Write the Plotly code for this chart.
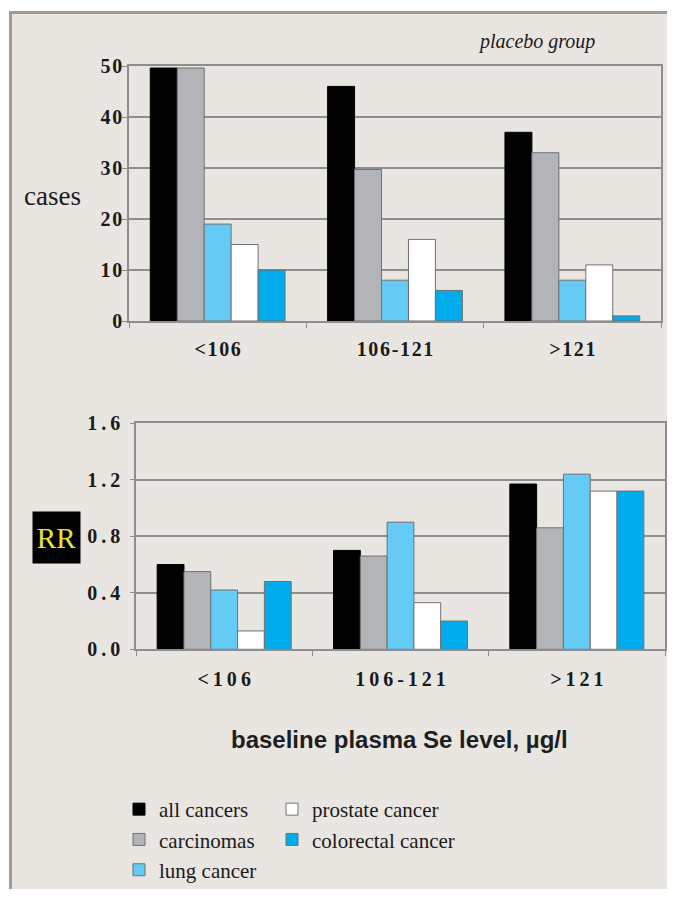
import plotly.graph_objects as go

# The page body adds an 8px margin, so the figure is laid out in page pixels
# and converted with that offset; its size keeps the page free of scrollbars.
OFF = 8
W, H = 675 - 2 * OFF, 897 - 2 * OFF

categories = ["<106", "106-121", ">121"]
top_ticktext = ["<\u200a1\u200a0\u200a6", "1\u200a0\u200a6\u200a-\u200a1\u200a2\u200a1", ">\u200a1\u200a2\u200a1"]
bot_ticktext = ["<\u20091\u20090\u20096", "1\u20090\u20096\u2009-\u20091\u20092\u20091", ">\u20091\u20092\u20091"]

series_names = ["all cancers", "carcinomas", "lung cancer", "prostate cancer", "colorectal cancer"]
series_colors = ["#000000", "#b2b4b7", "#66cbf4", "#ffffff", "#00acec"]
legend_rank = [1, 3, 5, 2, 4]
legend_ref = ["legend", "legend", "legend", "legend2", "legend2"]

cases = {
    "all cancers":       [49.6, 46, 37],
    "carcinomas":        [49.6, 29.7, 33],
    "lung cancer":       [19, 8, 8],
    "prostate cancer":   [15, 16, 11],
    "colorectal cancer": [10, 6, 1],
}
rr = {
    "all cancers":       [0.60, 0.70, 1.17],
    "carcinomas":        [0.55, 0.66, 0.86],
    "lung cancer":       [0.42, 0.90, 1.24],
    "prostate cancer":   [0.13, 0.33, 1.12],
    "colorectal cancer": [0.48, 0.20, 1.12],
}

cases_ticks = [0, 10, 20, 30, 40, 50]
cases_ticktext = ["0", "1\u200a0", "2\u200a0", "3\u200a0", "4\u200a0", "5\u200a0"]
rr_ticks = [0.0, 0.4, 0.8, 1.2, 1.6]
rr_ticktext = ["0\u2009.\u20090", "0\u2009.\u20094", "0\u2009.\u20098", "1\u2009.\u20092", "1\u2009.\u20096"]

BG = "#e9e5e1"
GRID = "#8e8e8e"
SERIF = "Liberation Serif, Times New Roman, serif"
SANS = "Liberation Sans, Arial, sans-serif"


def px(x):
    return (x - OFF) / W


def py(y):
    return 1 - (y - OFF) / H


fig = go.Figure()
for i, name in enumerate(series_names):
    line_col = "#000000" if i == 0 else "#707070"
    fig.add_trace(go.Bar(
        x=categories, y=cases[name], name=name, marker_color=series_colors[i],
        marker_line=dict(color=line_col, width=1), xaxis="x", yaxis="y",
        legend=legend_ref[i], legendrank=legend_rank[i], cliponaxis=False,
        showlegend=True,
    ))
for i, name in enumerate(series_names):
    line_col = "#000000" if i == 0 else "#707070"
    fig.add_trace(go.Bar(
        x=categories, y=rr[name], name=name, marker_color=series_colors[i],
        marker_line=dict(color=line_col, width=1), xaxis="x2", yaxis="y2",
        showlegend=False,
    ))

axis_common = dict(showline=True, mirror=True, linecolor=GRID, linewidth=1.5,
                   showgrid=False, zeroline=False)
tick_font = dict(family=SERIF, size=20, color="#1a1a1a", weight="bold")

fig.update_layout(
    width=W, height=H,
    margin=dict(l=0, r=0, t=0, b=0, autoexpand=False),
    paper_bgcolor="#ffffff",
    plot_bgcolor="rgba(0,0,0,0)",
    barmode="group", bargap=0.24, bargroupgap=0,
    font=dict(family=SERIF, color="#1a1a1a"),
    xaxis=dict(domain=[px(129), px(661)], anchor="y",
               tickmode="array", tickvals=categories, ticktext=top_ticktext,
               tickson="boundaries", ticks="outside", ticklen=5, tickcolor=GRID,
               tickfont=tick_font, ticklabelstandoff=9, **axis_common),
    yaxis=dict(domain=[py(321), py(66)], anchor="x", range=[0, 50],
               tickmode="array", tickvals=cases_ticks, ticktext=cases_ticktext,
               ticks="outside", ticklen=5, tickcolor=GRID,
               tickfont=tick_font, ticklabelstandoff=-4,
               gridcolor=GRID, gridwidth=1.5,
               showline=True, mirror=True, linecolor=GRID, linewidth=1.5, zeroline=False),
    xaxis2=dict(domain=[px(136), px(665)], anchor="y2",
                tickmode="array", tickvals=categories, ticktext=bot_ticktext,
                tickson="boundaries", ticks="outside", ticklen=5, tickcolor=GRID,
                tickfont=tick_font, ticklabelstandoff=11, **axis_common),
    yaxis2=dict(domain=[py(649.3), py(423.3)], anchor="x2", range=[0, 1.6],
                tickmode="array", tickvals=rr_ticks, ticktext=rr_ticktext,
                ticks="outside", ticklen=4, tickcolor=GRID,
                tickfont=tick_font, ticklabelstandoff=6,
                gridcolor=GRID, gridwidth=1.5,
                showline=True, mirror=True, linecolor=GRID, linewidth=1.5, zeroline=False),
    legend=dict(x=px(119), y=py(789), xanchor="left", yanchor="top",
                orientation="v", bgcolor="rgba(0,0,0,0)",
                font=dict(family=SERIF, size=21, color="#1a1a1a")),
    legend2=dict(x=px(272), y=py(789), xanchor="left", yanchor="top",
                 orientation="v", bgcolor="rgba(0,0,0,0)",
                 font=dict(family=SERIF, size=21, color="#1a1a1a")),
    shapes=[dict(type="rect", xref="paper", yref="paper", layer="below",
                 x0=px(10.5), x1=1.2, y0=-0.2, y1=py(12.5),
                 fillcolor=BG, line=dict(color="#a39b93", width=3))],
    annotations=[
        dict(text="placebo group", x=px(536), y=py(41), xref="paper", yref="paper",
             showarrow=False, xanchor="center", yanchor="middle",
             font=dict(family=SERIF, size=20, color="#1a1a1a", style="italic")),
        dict(text="cases", x=px(53), y=py(196), xref="paper", yref="paper",
             showarrow=False, xanchor="center", yanchor="middle",
             font=dict(family=SERIF, size=27, color="#1a1a1a")),
        dict(text="RR", x=px(56.5), y=py(537), xref="paper", yref="paper",
             showarrow=False, xanchor="center", yanchor="middle",
             width=47, height=51, bgcolor="#000000", borderpad=0,
             font=dict(family=SERIF, size=29, color="#e6e336")),
        dict(text="baseline plasma Se level, µg/l", x=px(399), y=py(739),
             xref="paper", yref="paper", showarrow=False,
             xanchor="center", yanchor="middle",
             font=dict(family=SANS, size=24, color="#1e1e1e", weight="bold")),
    ],
)

fig.write_html("out.html")
